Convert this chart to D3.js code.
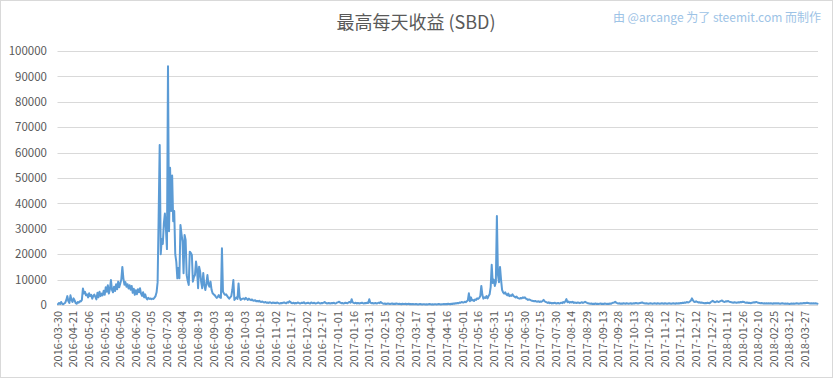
<!DOCTYPE html>
<html>
<head>
<meta charset="utf-8">
<script src="https://cdn.jsdelivr.net/npm/d3@7"></script>
<style>
  html, body { margin: 0; padding: 0; background: #fff; }
  svg { display: block; }
</style>
</head>
<body>
<svg id="chart" width="833" height="379"></svg>
<script>
// ---------- DATA ----------
const chartTitle = "最高每天收益 (SBD)";
const creditText = "由 @arcange 为了 steemit.com 而制作";
const yTicks = [0, 10000, 20000, 30000, 40000, 50000, 60000, 70000, 80000, 90000, 100000];
const labelStep = 15; // one date label every 15 categories
const tickLabels = [
  "2016-03-30","2016-04-21","2016-05-06","2016-05-21","2016-06-05","2016-06-20","2016-07-05",
  "2016-07-20","2016-08-04","2016-08-19","2016-09-03","2016-09-18","2016-10-03","2016-10-18",
  "2016-11-02","2016-11-17","2016-12-02","2016-12-17","2017-01-01","2017-01-16","2017-01-31",
  "2017-02-15","2017-03-02","2017-03-17","2017-04-01","2017-04-16","2017-05-01","2017-05-16",
  "2017-05-31","2017-06-15","2017-06-30","2017-07-15","2017-07-30","2017-08-14","2017-08-29",
  "2017-09-13","2017-09-28","2017-10-13","2017-10-28","2017-11-12","2017-11-27","2017-12-12",
  "2017-12-27","2018-01-11","2018-01-26","2018-02-10","2018-02-25","2018-03-12","2018-03-27"
];

// daily top payout (SBD), in consecutive chunks
const vals2016Spring = [
  300, 800, 400, 1200, 500, 300, 600, 900, 2000, 3500,
  1500, 800, 3800, 2000, 1200, 2600, 1800, 700, 500, 1200,
  900, 1500, 1400, 2000, 6500,
  4500, 5200, 3800, 4200, 3000, 4600, 3500, 4000, 2500, 3600,
  4100, 3200, 2200, 4800, 3000, 5200, 3500, 4500, 3800, 5600,
  4000, 7000, 5200, 7800, 4500, 6200, 9800, 6000, 5000, 7200,
  5500, 8200, 6200, 9200, 7000, 8500, 10000, 15000, 10500, 8000,
  9000, 7200, 8200, 6500, 7800, 6000, 7500, 4800, 6400, 4000,
  5800, 4200, 6200, 5000, 6600, 4500, 3600, 5000, 3000, 4200,
  2800, 2200, 2800, 2400, 2600, 2300, 2500, 2400
];
const vals2016Summer = [
  2900, 3500, 5000, 9000, 35000, 63000, 20000, 26000, 24000, 32000,
  36000, 30000, 22000, 94000, 29000, 54000, 37000, 51000, 33000, 37000,
  20000, 17000, 10500, 14600, 10500, 31500, 28000, 25000, 12500, 27600,
  25600, 11800, 9500, 7900, 21000, 20500, 19700, 9200, 11000, 11800,
  17100, 14000, 6600, 15100, 13100, 9000, 6600, 12600, 8000, 5900,
  8500, 11800, 8000, 7200, 9200, 6000, 4600, 4200, 3900, 3300,
  2800, 3200, 3900, 3000, 2800, 22300, 5200, 4500, 4000, 4200,
  3600, 3000, 2500, 3000, 3500, 6000, 9800, 2000, 2600, 3000,
  2400, 8500, 3200, 2000, 2300, 2500
];
const vals2016Autumn = [
  2600, 2200, 2800, 2400, 2000, 2500, 2100, 1900, 2200, 1800,
  1700, 1900, 1500, 1600, 1400, 1700, 1300, 1200, 1400, 1100,
  1000, 1200, 900, 1000, 800, 1100, 900, 700, 1000, 800,
  900, 700, 1000, 800, 600,
  600, 800, 700, 900, 1000, 800, 700, 1100, 900, 1500,
  1200, 800, 700, 900, 600, 800, 700, 1000, 800, 600,
  700, 900, 800, 1100, 700, 600, 800, 900, 700, 600,
  1000, 800, 700, 900, 600, 700, 800, 1000, 700, 600,
  800, 700, 900, 1200, 800, 600, 700, 800, 600, 700,
  800, 700, 900, 600, 700, 1000, 1100, 1300, 900, 700,
  800, 600, 700, 900, 800, 700, 1000, 1200, 900, 2300,
  1000, 800, 700, 900, 600, 800, 700, 600, 800, 900,
  700, 600, 800, 700, 900, 800, 2300, 900, 700, 800,
  600, 700, 800, 600, 700, 900, 700, 1200, 800, 600
];
const vals2017Spring = [
  500, 600, 400, 500, 600, 500, 400, 500, 600, 400,
  500, 400, 600, 500, 400, 500, 400, 300, 500, 400,
  400, 500, 300, 400, 500, 300, 400, 300, 400, 300,
  300, 400, 300, 200, 300, 400, 300, 200, 300, 300,
  200, 300, 200, 300, 400, 300, 200, 300, 200, 300,
  300, 200, 300, 400, 300, 200, 300, 300, 400, 300,
  400, 300, 500, 400, 300, 500, 400, 600, 500, 700,
  600, 800, 700, 1000, 900, 1200, 1000
];
const vals2017Summer = [
  1000, 1300, 1100, 1500, 1800, 4600, 1500, 3000, 1800, 2000,
  1600, 2200, 2000, 2600, 2400, 2800, 3500, 7500, 4000, 2500,
  3000, 2800, 3500, 2600, 3500, 4200, 7000, 15800, 8700, 10000,
  7500, 9000, 35000, 12000, 9000, 15000, 10000, 6000, 5000, 4500,
  5000, 4200, 3800, 4500, 3500, 3800, 3600, 4200, 3500, 3300,
  3000, 3300, 2800, 2600, 2500, 2800, 2600, 3000, 2800, 3000,
  2500, 2300, 2000, 2200, 2000, 1800, 1700, 1600, 1500, 1600,
  1400, 1300, 1500, 1200, 1400, 1300, 1600, 2000, 1500, 1200
];
const vals2017Late = [
  1000, 800, 1100, 700, 900, 600, 800, 700, 900, 600,
  700, 800, 600, 700, 900, 700, 1200, 900, 1500, 2300,
  1100, 1400, 900, 1200, 1000, 1300, 800, 1000, 900, 800,
  1000, 900, 700, 900, 1100, 800, 1000, 1300, 1000, 800,
  700, 600, 500, 600, 400, 500, 400, 600, 400, 500,
  400, 500, 600, 400, 500, 400, 600, 500, 400, 500,
  400, 600, 500, 700, 900, 1000, 1300, 900, 700, 600,
  700, 500, 600, 500, 700, 600, 500, 700, 600, 500,
  600, 700, 500, 600, 700, 600, 800, 700, 600, 700,
  800, 900, 1000, 800, 700, 600, 700, 600, 500, 600,
  700, 600, 500, 600, 700, 600, 500, 700, 600, 500,
  600, 700, 600, 500, 700, 600, 500, 600, 700, 600,
  500, 600, 700, 600, 500, 700, 600, 700, 600, 800,
  700, 900, 800, 1000, 900, 1200, 1000, 1100, 1400, 1800,
  2600, 1800, 1300, 1200, 1500, 1200, 1000, 1100, 900, 1000,
  900, 800, 700, 800, 700, 900, 800, 700, 1100, 1400,
  1700, 1300, 1100, 1200, 1500, 1300, 1200, 1400, 1600, 1800,
  1400, 1200, 1300, 1500, 1400, 1600, 1300, 1200, 1100, 1000,
  900, 1100, 1000, 900, 1000, 1100, 1000, 1200, 1100, 1300,
  1200, 1000, 900, 1000, 800, 900, 800, 700, 900, 1000,
  1100, 1000, 1200, 1000, 900, 800, 700, 800, 700, 600,
  700, 600, 700, 600, 700, 600, 700, 600, 500, 700,
  600, 700, 600, 700, 600, 500, 600, 700, 600, 500,
  600, 500, 600, 500, 400, 500, 600, 500, 600, 500,
  600, 700, 600, 500, 600, 700, 600, 700, 800, 700,
  800, 900, 800, 700, 600, 700, 600, 700, 600, 700,
  600, 500
];

const values = [].concat(vals2016Spring, vals2016Summer, vals2016Autumn,
                         vals2017Spring, vals2017Summer, vals2017Late);

// ---------- DRAW ----------
const W = 833, H = 379;
const plot = { left: 57.5, right: 818, top: 51, bottom: 305 };
const svg = d3.select("#chart");
const font = "'Noto Sans CJK SC', 'Noto Sans', sans-serif";
const grey = "#595959";

// outer border
svg.append("rect").attr("x", 0.5).attr("y", 0.5).attr("width", W - 1).attr("height", H - 2)
  .attr("fill", "#fff").attr("stroke", "#d9d9d9");

const x = d3.scaleBand().domain(d3.range(values.length)).range([plot.left, plot.right]);
const y = d3.scaleLinear().domain([0, 100000]).range([plot.bottom, plot.top]);
const cx = i => x(i) + x.bandwidth() / 2;

// gridlines
svg.append("g").selectAll("line").data(yTicks).join("line")
  .attr("x1", plot.left).attr("x2", plot.right)
  .attr("y1", d => Math.round(y(d)) + 0.5).attr("y2", d => Math.round(y(d)) + 0.5)
  .attr("stroke", "#d9d9d9").attr("stroke-width", 1);

// y axis labels
const yAxis = d3.axisLeft(y).tickValues(yTicks).tickSize(0).tickPadding(0).tickFormat(d3.format("d"));
const gy = svg.append("g").attr("transform", `translate(47,0)`).call(yAxis);
gy.select(".domain").remove();
gy.selectAll("text").attr("font-family", font).attr("font-size", 11.5).attr("fill", grey);

// x axis labels (category axis, every 15th category)
const labelIdx = tickLabels.map((_, k) => k * labelStep);
const xAxis = d3.axisBottom(x).tickValues(labelIdx)
  .tickFormat(i => tickLabels[i / labelStep]).tickSize(0).tickPadding(0);
const gx = svg.append("g").attr("transform", `translate(0,${plot.bottom})`).call(xAxis);
gx.select(".domain").attr("stroke", "#d9d9d9").attr("d", `M${plot.left},0.5H${plot.right}`);
gx.selectAll("text")
  .attr("font-family", font).attr("font-size", 11).attr("fill", grey)
  .attr("text-anchor", "end")
  .attr("transform", "rotate(-90)")
  .attr("x", -6).attr("y", 0).attr("dy", "0.35em");

// line
const line = d3.line().x((d, i) => cx(i)).y(d => y(d));
svg.append("path").datum(values)
  .attr("fill", "none").attr("stroke", "#5b9bd5").attr("stroke-width", 2)
  .attr("stroke-linejoin", "round").attr("stroke-linecap", "round")
  .attr("d", line);

// title
svg.append("text").attr("x", 416).attr("y", 29).attr("text-anchor", "middle")
  .attr("font-family", font).attr("font-size", 18).attr("fill", grey).text(chartTitle);

// credit
svg.append("text").attr("x", 821).attr("y", 22).attr("text-anchor", "end")
  .attr("font-family", font).attr("font-size", 12).attr("fill", "#9dc3e6").text(creditText);
</script>
</body>
</html>
